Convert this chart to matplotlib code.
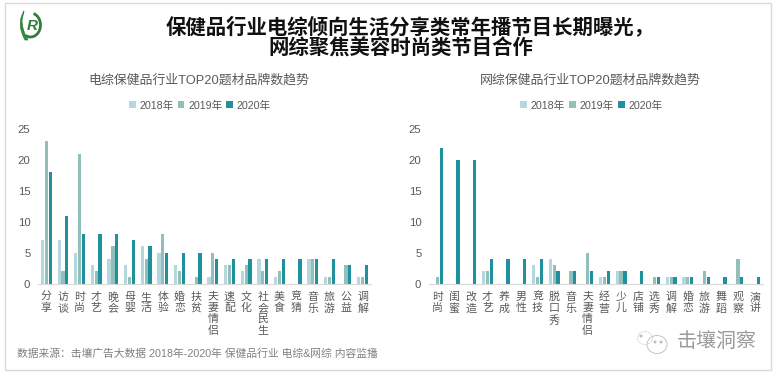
import numpy as np
import matplotlib
matplotlib.use('Agg')
import matplotlib.pyplot as plt
from matplotlib.patches import Rectangle, Arc, Ellipse, Circle, PathPatch
from matplotlib.path import Path

plt.rcParams['font.family'] = ['Liberation Sans', 'Noto Sans CJK SC']

YEARS = ['2018年', '2019年', '2020年']
COLORS = ['#B5D8DE', '#93BFBB', '#1F919E']

tv_cats = ['分享', '访谈', '时尚', '才艺', '晚会', '母婴', '生活', '体验', '婚恋', '扶贫',
           '夫妻情侣', '速配', '文化', '社会民生', '美食', '竞猜', '音乐', '旅游', '公益', '调解']
tv_2018 = [7, 7, 5, 3, 4, 3, 6, 5, 3, 0, 1, 3, 2, 4, 1, 0, 4, 1, 0, 1]
tv_2019 = [23, 2, 21, 2, 6, 1, 4, 8, 2, 1, 5, 3, 3, 2, 2, 0, 4, 1, 3, 1]
tv_2020 = [18, 11, 8, 8, 8, 7, 6, 5, 5, 5, 4, 4, 4, 4, 4, 4, 4, 4, 3, 3]

web_cats = ['时尚', '闺蜜', '改造', '才艺', '养成', '男性', '竞技', '脱口秀', '音乐', '夫妻情侣',
            '经营', '少儿', '店铺', '选秀', '调解', '婚恋', '旅游', '舞蹈', '观察', '演讲']
web_2018 = [0, 0, 0, 2, 0, 0, 3, 4, 0, 0, 1, 2, 0, 0, 1, 1, 0, 0, 0, 0]
web_2019 = [1, 0, 0, 2, 0, 0, 1, 3, 2, 5, 1, 2, 0, 1, 1, 1, 2, 0, 4, 0]
web_2020 = [22, 20, 20, 4, 4, 4, 4, 2, 2, 2, 2, 2, 2, 1, 1, 1, 1, 1, 1, 1]

W, H = 776, 375


def px_axes(fig, x0, y0, x1, y1):
    # pixel box, y measured from the top of the image
    return fig.add_axes([x0 / W, 1 - y1 / H, (x1 - x0) / W, (y1 - y0) / H])


def draw_bars(ax, cats, series, title):
    x = np.arange(len(cats))
    for i, vals in enumerate(series):
        ax.bar(x + (i - 1) * 0.23, vals, 0.195, color=COLORS[i], label=YEARS[i])
    ax.set_xlim(-0.5, len(cats) - 0.5)
    ax.set_ylim(0, 25)
    ax.set_yticks([0, 5, 10, 15, 20, 25])
    ax.set_xticks(x)
    ax.set_xticklabels(['\n'.join(c) for c in cats], fontsize=7.9, color='#595959',
                       linespacing=1.14, va='top')
    ax.tick_params(axis='both', length=0)
    ax.tick_params(axis='y', labelsize=8.2, labelcolor='#595959', pad=5.5)
    ax.tick_params(axis='x', pad=6)
    for s in ['top', 'right', 'left']:
        ax.spines[s].set_visible(False)
    ax.spines['bottom'].set_color('#D9D9D9')
    ax.text(0.484, 1.317, title, transform=ax.transAxes, fontsize=9.3, color='#595959',
            ha='center', va='center')
    ax.legend(loc='center', bbox_to_anchor=(0.486, 1.152), ncol=3, frameon=False,
              fontsize=7.7, labelcolor='#595959', handlelength=0.65, handleheight=0.65,
              handletextpad=0.33, columnspacing=0.36, borderpad=0)


fig = plt.figure(figsize=(W / 100, H / 100), dpi=100)

ax1 = px_axes(fig, 38, 129, 371, 283.5)
draw_bars(ax1, tv_cats, [tv_2018, tv_2019, tv_2020], '电综保健品行业TOP20题材品牌数趋势')
ax2 = px_axes(fig, 429, 129, 763, 283.5)
draw_bars(ax2, web_cats, [web_2018, web_2019, web_2020], '网综保健品行业TOP20题材品牌数趋势')

# overlay in image pixels for frame, logo and watermark
bg = fig.add_axes([0, 0, 1, 1], zorder=-1)
bg.set_xlim(0, W)
bg.set_ylim(H, 0)
bg.axis('off')
bg.add_patch(Rectangle((4.5, 2.5), 766, 367.5, fill=False, ec='#D9D9D9', lw=1))

# logo: ring, leaf and R
bg.add_patch(Arc((30.5, 25), 20, 24, theta1=-75, theta2=115, color='#2E7D3A', lw=2))
leaf = Path([(24, 11), (16, 24), (25, 40), (28, 40), (22, 30), (22, 20), (24, 11)],
            [Path.MOVETO, Path.CURVE3, Path.CURVE3, Path.LINETO, Path.CURVE3, Path.CURVE3, Path.CLOSEPOLY])
bg.add_patch(PathPatch(leaf, fc='#2E8B45', ec='#2E7D3A', lw=0.5))
bg.text(32, 26, 'R', fontsize=11, fontweight='bold', fontstyle='italic', color='#2E7D3A',
        ha='center', va='center')

# watermark icon
bg.add_patch(Ellipse((657, 344.5), 20, 18, fill=False, ec='#C4C4C4', lw=0.7))
bg.add_patch(Ellipse((645, 338), 15, 13, fill=False, ec='#D4D4D4', lw=0.6, ls=(0, (3, 1))))
bg.add_patch(Circle((641, 336), 0.8, color='#BDBDBD'))
bg.add_patch(Circle((655, 342), 0.8, color='#BDBDBD'))
bg.add_patch(Circle((661, 342), 0.8, color='#BDBDBD'))

fig.text(410 / W, 1 - 27 / H, '保健品行业电综倾向生活分享类常年播节目长期曝光，', fontsize=14.7,
         fontweight='bold', color='#111111', ha='center', va='center')
fig.text(401 / W, 1 - 49 / H, '网综聚焦美容时尚类节目合作', fontsize=14.7,
         fontweight='bold', color='#111111', ha='center', va='center')
fig.text(17 / W, 1 - 354 / H, '数据来源：击壤广告大数据 2018年-2020年 保健品行业 电综&网综 内容监播',
         fontsize=7.75, color='#808080', ha='left', va='center')
fig.text(677 / W, 1 - 341 / H, '击壤洞察', fontsize=14.4, color='#9A9A9A', ha='left', va='center')

fig.savefig('out.png', dpi=100)
